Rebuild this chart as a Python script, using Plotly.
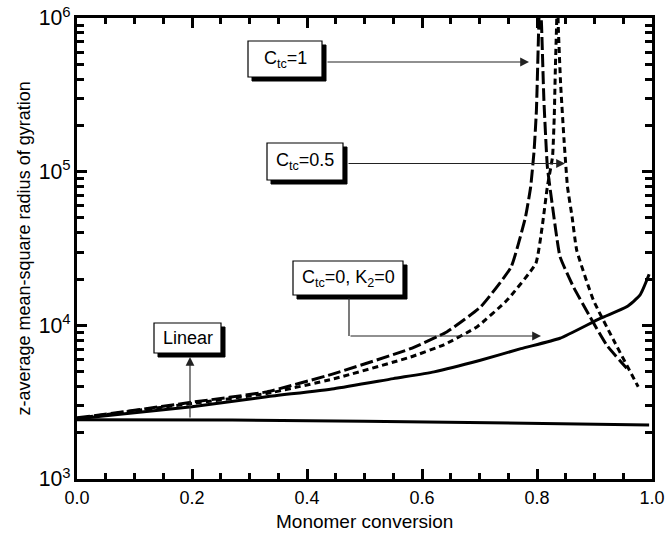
import plotly.graph_objects as go

# ---- data ----
x_linear = [0.0, 0.27, 0.5, 0.8, 0.995]
y_linear = [2430, 2420, 2380, 2310, 2250]

x_ctc0 = [0.0, 0.1, 0.2, 0.33, 0.447, 0.55, 0.621, 0.7, 0.772, 0.84, 0.91, 0.956, 0.979, 0.995]
y_ctc0 = [2470, 2700, 2950, 3430, 3870, 4500, 4980, 5900, 7050, 8240, 11100, 13200, 15700, 21500]

x_ctc1 = [0.0, 0.1, 0.2, 0.33, 0.447, 0.58, 0.643, 0.702, 0.755, 0.780, 0.789, 0.795, 0.799, 0.803, 0.805,
          0.808, 0.812, 0.818, 0.827, 0.840, 0.863, 0.892, 0.921, 0.956]
y_ctc1 = [2500, 2800, 3160, 3690, 4850, 7050, 9060, 13200, 24000, 50700, 79800, 138000, 252000, 878000, 1500000,
          878000, 292000, 108000, 59200, 28000, 17900, 11400, 7450, 5250]

x_ctc05 = [0.0, 0.1, 0.2, 0.33, 0.447, 0.58, 0.638, 0.696, 0.748, 0.798, 0.809, 0.818, 0.827, 0.830, 0.832, 0.834, 0.8355,
           0.837, 0.841, 0.847, 0.853, 0.861, 0.869, 0.898, 0.933, 0.976]
y_ctc05 = [2480, 2780, 3100, 3600, 4490, 6220, 7470, 9800, 14600, 25300, 43800, 79800, 125000, 228000, 482000, 878000, 1500000,
           878000, 376000, 161000, 79800, 50900, 30900, 14600, 8040, 3980]

x_major = [0.0, 0.2, 0.4, 0.6, 0.8, 1.0]
x_minor = [i * 0.05 for i in range(21)]
y_range_log = [3, 6]

labels = ["C<sub>tc</sub>=1", "C<sub>tc</sub>=0.5", "C<sub>tc</sub>=0, K<sub>2</sub>=0", "Linear"]
x_title = "Monomer conversion"
y_title = "z-average mean-square radius of gyration"

# ---- geometry helpers (plot area in pixels) ----
L, R, T, B = 77, 652, 18, 479
W, H = 668, 534
PW, PH = R - L, B - T

def px2x(p):
    return (p - L) / PW

def py2log(p):
    return 6 - (p - T) / PH * 3

def py2y(p):
    return 10 ** py2log(p)

fig = go.Figure()
line_w = 3
fig.add_trace(go.Scatter(x=x_linear, y=y_linear, mode="lines",
                         line=dict(color="black", width=line_w)))
fig.add_trace(go.Scatter(x=x_ctc0, y=y_ctc0, mode="lines",
                         line=dict(color="black", width=line_w, shape="spline", smoothing=0.5)))
fig.add_trace(go.Scatter(x=x_ctc1, y=y_ctc1, mode="lines",
                         line=dict(color="black", width=line_w, dash="13px,4px", shape="spline", smoothing=0.4)))
fig.add_trace(go.Scatter(x=x_ctc05, y=y_ctc05, mode="lines",
                         line=dict(color="black", width=line_w, dash="6px,4px", shape="spline", smoothing=0.4)))

# ---- label boxes (pixel extents) with drop shadow ----
boxes = [
    (248, 322, 41, 77),
    (267, 343, 143, 180),
    (293, 403, 261, 295),
    (154, 221, 323, 353),
]
shapes = []
sh = 4
for (x0, x1, y0, y1) in boxes:
    shapes.append(dict(type="rect", xref="x", yref="y",
                       x0=px2x(x0 + sh), x1=px2x(x1 + sh), y0=py2y(y1 + sh), y1=py2y(y0 + sh),
                       fillcolor="black", line=dict(color="black", width=1)))
    shapes.append(dict(type="rect", xref="x", yref="y",
                       x0=px2x(x0), x1=px2x(x1), y0=py2y(y1), y1=py2y(y0),
                       fillcolor="white", line=dict(color="black", width=1.2)))
# elbow connector vertical segment
shapes.append(dict(type="line", xref="x", yref="y",
                   x0=px2x(349), x1=px2x(349), y0=py2y(298), y1=py2y(336),
                   line=dict(color="#222", width=1.2)))

annotations = []
for (x0, x1, y0, y1), txt in zip(boxes, labels):
    annotations.append(dict(x=px2x((x0 + x1) / 2), y=py2log((y0 + y1) / 2), xref="x", yref="y",
                            text=txt, showarrow=False, font=dict(size=18, color="black"),
                            xanchor="center", yanchor="middle"))

arrows = [
    ((326, 62), (529, 62)),
    ((347, 163.5), (565, 163.5)),
    ((349, 336), (541, 336)),
    ((190, 419), (190, 357)),
]
for (tx, ty), (hx, hy) in arrows:
    annotations.append(dict(x=px2x(hx), y=py2log(hy), ax=px2x(tx), ay=py2log(ty),
                            xref="x", yref="y", axref="x", ayref="y", text="",
                            showarrow=True, arrowhead=2, arrowsize=1.6, arrowwidth=1.1,
                            arrowcolor="#222"))

# axis titles as positioned text
annotations.append(dict(x=px2x(23), y=0.5, xref="paper", yref="paper", text=y_title,
                        textangle=-90, showarrow=False, font=dict(size=18, color="black"),
                        xanchor="center", yanchor="middle"))
annotations.append(dict(x=0.5, y=(B - 521) / PH, xref="paper", yref="paper", text=x_title,
                        showarrow=False, font=dict(size=19, color="black"),
                        xanchor="center", yanchor="middle"))

fig.update_layout(
    width=W, height=H,
    margin=dict(l=L, r=W - R, t=T, b=H - B),
    paper_bgcolor="white", plot_bgcolor="white",
    showlegend=False,
    font=dict(family="Liberation Sans, Arial, sans-serif", color="black", size=17),
    shapes=shapes, annotations=annotations,
)
fig.update_xaxes(
    range=[0, 1], tickvals=x_major, tickformat=".1f", automargin=False,
    ticks="inside", ticklen=10, tickwidth=2.5, tickcolor="black",
    minor=dict(tickvals=x_minor, ticks="inside", ticklen=6, tickwidth=2.5, tickcolor="black"),
    showline=True, linewidth=3, linecolor="black", mirror="allticks",
    showgrid=False, zeroline=False,
    tickfont=dict(size=18),
)
fig.update_yaxes(
    type="log", range=y_range_log, dtick=1, exponentformat="power", automargin=False,
    ticks="inside", ticklen=10, tickwidth=2.5, tickcolor="black",
    minor=dict(dtick="D1", ticks="inside", ticklen=7, tickwidth=2.5, tickcolor="black"),
    showline=True, linewidth=3, linecolor="black", mirror="allticks",
    showgrid=False, zeroline=False,
    tickfont=dict(size=17),
)

fig.write_html("out.html")
